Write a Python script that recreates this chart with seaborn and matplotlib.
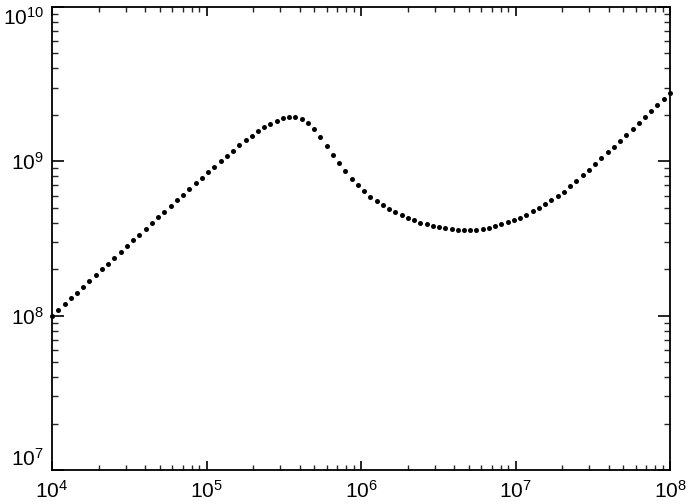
import numpy as np
import pandas as pd
import matplotlib
matplotlib.use("Agg")
import matplotlib.pyplot as plt
import seaborn as sns

# log10 of x sample points (evenly spaced in log between 1e4 and 1e8)
log_x = [4.000, 4.040, 4.081, 4.121, 4.162, 4.202, 4.242, 4.283, 4.323, 4.364,
         4.404, 4.444, 4.485, 4.525, 4.566, 4.606, 4.646, 4.687, 4.727, 4.768,
         4.808, 4.848, 4.889, 4.929, 4.970, 5.010, 5.051, 5.091, 5.131, 5.172,
         5.212, 5.253, 5.293, 5.333, 5.374, 5.414, 5.455, 5.495, 5.535, 5.576,
         5.616, 5.657, 5.697, 5.737, 5.778, 5.818, 5.859, 5.899, 5.939, 5.980,
         6.020, 6.061, 6.101, 6.141, 6.182, 6.222, 6.263, 6.303, 6.343, 6.384,
         6.424, 6.465, 6.505, 6.545, 6.586, 6.626, 6.667, 6.707, 6.747, 6.788,
         6.828, 6.869, 6.909, 6.949, 6.990, 7.030, 7.071, 7.111, 7.152, 7.192,
         7.232, 7.273, 7.313, 7.354, 7.394, 7.434, 7.475, 7.515, 7.556, 7.596,
         7.636, 7.677, 7.717, 7.758, 7.798, 7.838, 7.879, 7.919, 7.960, 8.000]

# log10 of y values
log_y = [8.000, 8.036, 8.073, 8.112, 8.148, 8.187, 8.222, 8.261, 8.300, 8.336,
         8.373, 8.410, 8.449, 8.488, 8.522, 8.561, 8.600, 8.637, 8.673, 8.710,
         8.747, 8.784, 8.821, 8.857, 8.894, 8.931, 8.965, 9.000, 9.034, 9.069,
         9.106, 9.136, 9.166, 9.194, 9.220, 9.242, 9.263, 9.279, 9.285, 9.285,
         9.274, 9.250, 9.209, 9.159, 9.099, 9.041, 8.987, 8.935, 8.885, 8.844,
         8.806, 8.769, 8.741, 8.715, 8.691, 8.669, 8.650, 8.633, 8.618, 8.603,
         8.592, 8.583, 8.574, 8.568, 8.561, 8.557, 8.555, 8.553, 8.555, 8.560,
         8.568, 8.583, 8.592, 8.605, 8.620, 8.634, 8.652, 8.675, 8.699, 8.723,
         8.747, 8.775, 8.803, 8.838, 8.874, 8.911, 8.946, 8.983, 9.019, 9.058,
         9.095, 9.134, 9.170, 9.209, 9.246, 9.285, 9.324, 9.363, 9.402, 9.443]

df = pd.DataFrame({"x": 10.0 ** np.array(log_x), "y": 10.0 ** np.array(log_y)})

sns.set_style("ticks")
plt.rcParams["font.family"] = ["Liberation Sans", "DejaVu Sans"]
plt.rcParams["mathtext.default"] = "regular"

fig = plt.figure(figsize=(6.9, 5.04), dpi=100)
ax = fig.add_axes([52 / 690, 1 - 470 / 504, 618 / 690, 463 / 504])

sns.scatterplot(data=df, x="x", y="y", ax=ax, color="black", s=13,
                linewidth=0, marker="o", clip_on=False)

ax.set_xscale("log")
ax.set_yscale("log")
ax.set_xlim(1e4, 1e8)
ax.set_ylim(1e7, 1e10)
ax.set_yticks([1e7, 1e8, 1e9, 1e10])
ax.set_xlabel("")
ax.set_ylabel("")

for s in ax.spines.values():
    s.set_linewidth(1.3)
    s.set_color("black")

ax.tick_params(axis="x", which="major", direction="in", length=6.5, width=1.2,
               top=True, bottom=True, labelsize=15, pad=7, colors="black")
ax.tick_params(axis="x", which="minor", direction="in", length=3.3, width=1.0,
               top=True, bottom=True)
ax.tick_params(axis="y", which="major", direction="in", length=8.9, width=1.2,
               left=True, right=True, labelsize=15, pad=6, colors="black")
ax.tick_params(axis="y", which="minor", direction="in", length=4.5, width=1.0,
               left=True, right=True)

# end labels sit inside the axis range, as in the original
fig.canvas.draw()
yticks = ax.yaxis.get_major_ticks()
yticks[-1].label1.set_verticalalignment("top")
yticks[0].label1.set_verticalalignment("bottom")

fig.savefig("out.png", dpi=100)
